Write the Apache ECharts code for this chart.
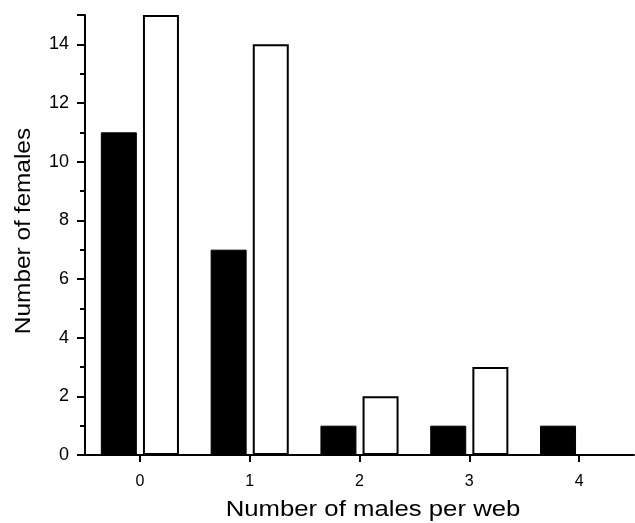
<!DOCTYPE html>
<html>
<head>
<meta charset="utf-8">
<script src="https://cdn.jsdelivr.net/npm/echarts@6/dist/echarts.min.js"></script>
<style>
  html, body { margin: 0; padding: 0; background: #fff; }
  #chart { width: 635px; height: 523px; }
</style>
</head>
<body>
<div id="chart"></div>
<script>
// Number of males found per web
const males = ['0', '1', '2', '3', '4'];
// Females counted in each class (filled and open bars)
const femalesFilled = [11, 7, 1, 1, 1];
const femalesOpen = [15, 14, 2, 3, 0];
const yTicks = { min: 0, max: 15, interval: 2 };
const xTitle = 'Number of males per web';
const yTitle = 'Number of females';

const font = '"Liberation Sans", Arial, sans-serif';
const chart = echarts.init(document.getElementById('chart'));

chart.setOption({
  animation: false,
  backgroundColor: '#fff',
  grid: { left: 85, right: 1, top: 15, bottom: 68, containLabel: false, outerBoundsMode: 'none' },
  // Axis titles, drawn in a wide sans face
  graphic: [
    {
      type: 'text', x: 373, y: 510, scaleX: 1.17,
      style: { text: xTitle, fontSize: 22, fontFamily: font, fill: '#000', align: 'center', verticalAlign: 'middle' }
    },
    {
      type: 'text', x: 24, y: 231, rotation: Math.PI / 2, scaleX: 1.11,
      style: { text: yTitle, fontSize: 22, fontFamily: font, fill: '#000', align: 'center', verticalAlign: 'middle' }
    }
  ],
  xAxis: {
    type: 'category',
    data: males,
    boundaryGap: true,
    axisLine: { lineStyle: { color: '#000', width: 2 } },
    axisTick: { show: true, alignWithLabel: true, length: 7, lineStyle: { color: '#000', width: 2 } },
    axisLabel: { color: '#000', fontSize: 16, fontFamily: font, margin: 19 },
    splitLine: { show: false }
  },
  yAxis: {
    type: 'value',
    min: yTicks.min,
    max: yTicks.max,
    interval: yTicks.interval,
    axisLine: { show: true, lineStyle: { color: '#000', width: 2 } },
    axisTick: { show: true, length: 8, lineStyle: { color: '#000', width: 2 } },
    minorTick: { show: true, splitNumber: 2, length: 5, lineStyle: { color: '#000', width: 2 } },
    axisLabel: { color: '#000', fontSize: 18, fontFamily: font, margin: 16, showMaxLabel: false },
    splitLine: { show: false },
    minorSplitLine: { show: false }
  },
  series: [
    {
      type: 'bar',
      data: femalesFilled,
      barWidth: 36,
      barGap: '17%',
      itemStyle: { color: '#000', borderColor: '#000', borderWidth: 1 }
    },
    {
      type: 'bar',
      data: femalesOpen,
      barWidth: 36,
      barGap: '17%',
      itemStyle: { color: '#fff', borderColor: '#000', borderWidth: 2 }
    }
  ]
});
</script>
</body>
</html>
